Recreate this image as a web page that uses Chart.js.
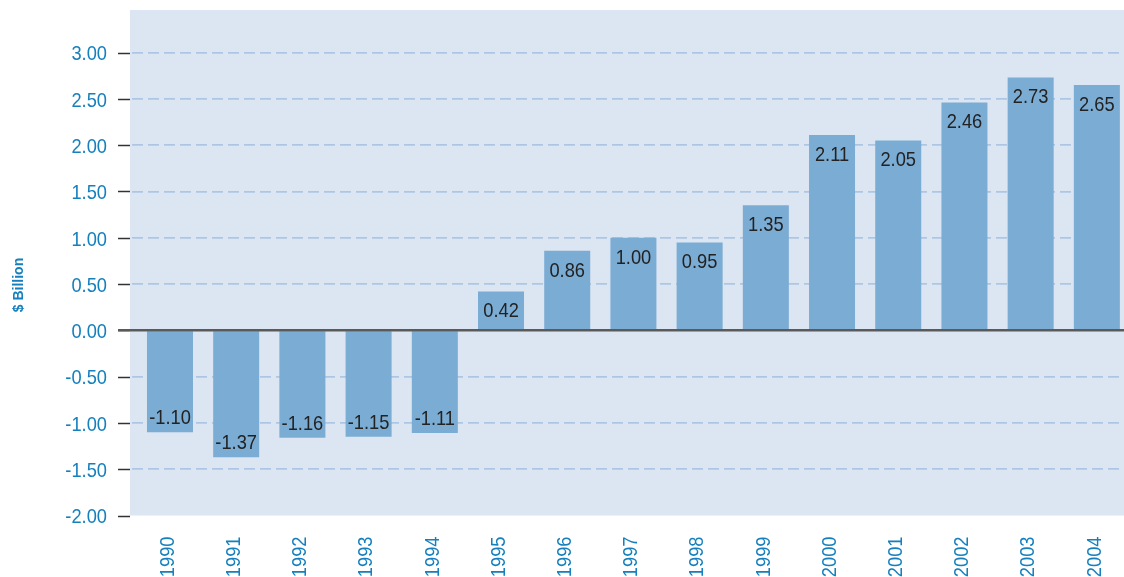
<!DOCTYPE html>
<html>
<head>
<meta charset="utf-8">
<script src="https://cdn.jsdelivr.net/npm/chart.js@4"></script>
<style>
  html, body { margin: 0; padding: 0; background: #fff; }
  #wrap { width: 1124px; height: 577px; position: relative; }
</style>
</head>
<body>
<div id="wrap"><canvas id="chart"></canvas></div>
<script>
// Dữ liệu
const years = ['1990', '1991', '1992', '1993', '1994', '1995', '1996', '1997', '1998', '1999', '2000', '2001', '2002', '2003', '2004'];
const values = [-1.10, -1.37, -1.16, -1.15, -1.11, 0.42, 0.86, 1.00, 0.95, 1.35, 2.11, 2.05, 2.46, 2.73, 2.65];
const yTicks = [-2, -1.5, -1, -0.5, 0, 0.5, 1, 1.5, 2, 2.5, 3];
const yTitle = '$ Billion';

const FONT = "'Liberation Sans', Arial, sans-serif";
const BLUE = '#1580bd';
const SQUEEZE = 0.87; // chữ hẹp như bản gốc

// Vẽ chữ bị nén theo chiều ngang
function narrowText(ctx, text, x, y, align, rot) {
    ctx.save();
    ctx.translate(x, y);
    if (rot) ctx.rotate(rot);
    ctx.scale(SQUEEZE, 1);
    ctx.textAlign = align;
    ctx.fillText(text, 0, 0);
    ctx.restore();
}

// Nền vùng vẽ, vạch chia trục, đường 0 và các nhãn
const decor = {
    id: 'decor',
    beforeDraw(chart) {
        const { ctx, chartArea: a } = chart;
        ctx.save();
        ctx.fillStyle = '#dce6f2';
        ctx.fillRect(a.left, a.top, a.right - a.left, a.bottom - a.top);
        ctx.restore();
    },
    afterDatasetsDraw(chart) {
        const { ctx, chartArea: a, scales } = chart;
        const y = scales.y;
        ctx.save();
        // vạch chia
        ctx.strokeStyle = '#333';
        ctx.lineWidth = 1.5;
        yTicks.forEach(v => {
            const py = Math.round(y.getPixelForValue(v)) + 0.5;
            ctx.beginPath();
            ctx.moveTo(a.left - 12, py);
            ctx.lineTo(a.left, py);
            ctx.stroke();
        });
        // đường 0
        const z = y.getPixelForValue(0);
        ctx.strokeStyle = '#5a5a5a';
        ctx.lineWidth = 2.5;
        ctx.beginPath();
        ctx.moveTo(a.left - 12, z);
        ctx.lineTo(chart.width, z);
        ctx.stroke();

        ctx.font = '21px ' + FONT;
        ctx.textBaseline = 'middle';

        // nhãn trục Y
        ctx.fillStyle = BLUE;
        yTicks.forEach(v => {
            narrowText(ctx, v.toFixed(2), a.left - 23, y.getPixelForValue(v) + 2, 'right');
        });

        // nhãn trục X (xoay dọc)
        const meta = chart.getDatasetMeta(0);
        meta.data.forEach((bar, i) => {
            const px = scales.x.getPixelForValue(i);
            narrowText(ctx, years[i], px - 2, a.bottom + 21, 'right', -Math.PI / 2);
        });

        // nhãn giá trị trên cột
        ctx.fillStyle = '#222';
        meta.data.forEach((bar, i) => {
            const v = values[i];
            const ty = v >= 0 ? bar.y + 20 : bar.y - 14;
            narrowText(ctx, v.toFixed(2), bar.x, ty, 'center');
        });

        // tiêu đề trục Y
        ctx.translate(19, 285);
        ctx.rotate(-Math.PI / 2);
        ctx.fillStyle = BLUE;
        ctx.font = 'bold 14px ' + FONT;
        ctx.textAlign = 'center';
        ctx.fillText(yTitle, 0, 0);
        ctx.restore();
    }
};

const ctx = document.getElementById('chart').getContext('2d');
const chart = new Chart(ctx, {
    type: 'bar',
    data: {
        datasets: [{
            data: years.map((yr, i) => ({ x: i, y: values[i] })),
            backgroundColor: '#7bacd3',
            borderWidth: 0,
            categoryPercentage: 1,
            barPercentage: 0.695
        }]
    },
    options: {
        responsive: true,
        maintainAspectRatio: false,
        animation: false,
        layout: { padding: { top: 10, right: 0, left: 0, bottom: 0 } },
        plugins: {
            legend: { display: false },
            tooltip: { enabled: false }
        },
        scales: {
            x: {
                type: 'linear',
                offset: false,
                min: -0.604,
                max: 14.41,
                afterBuildTicks: s => { s.ticks = years.map((yr, i) => ({ value: i })); },
                afterFit: s => { s.height = 61.5; s.paddingLeft = 0; s.paddingRight = 0; },
                grid: { display: false, drawTicks: false },
                border: { display: false },
                ticks: { display: false }
            },
            y: {
                min: -2,
                max: 3.46,
                afterBuildTicks: s => { s.ticks = yTicks.map(v => ({ value: v })); },
                afterFit: s => { s.width = 130; s.paddingTop = 0; s.paddingBottom = 0; },
                grid: {
                    drawTicks: false,
                    color: ctx => (ctx.tick && (ctx.tick.value === 0 || ctx.tick.value === -2)) ? 'rgba(0,0,0,0)' : '#adc6e3',
                    lineWidth: 1.8
                },
                border: { display: false, dash: [11, 5], dashOffset: -2 },
                ticks: { display: false }
            }
        }
    },
    plugins: [decor]
});
</script>
</body>
</html>
